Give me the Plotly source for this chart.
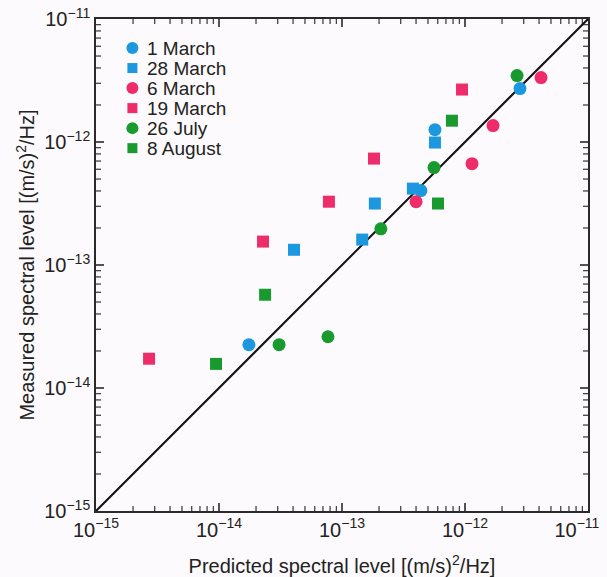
import plotly.graph_objects as go

# Predicted vs measured spectral levels, (m/s)^2/Hz
mar1_pred = [1.75e-14, 4.38e-13, 5.7e-13, 2.8e-12]
mar1_meas = [2.25e-14, 4.03e-13, 1.26e-12, 2.72e-12]

mar28_pred = [4.07e-14, 1.46e-13, 1.85e-13, 3.77e-13, 5.7e-13]
mar28_meas = [1.33e-13, 1.61e-13, 3.16e-13, 4.18e-13, 9.9e-13]

mar6_pred = [4.0e-13, 1.14e-12, 1.69e-12, 4.15e-12]
mar6_meas = [3.27e-13, 6.67e-13, 1.36e-12, 3.34e-12]

mar19_pred = [2.7e-15, 2.28e-14, 7.83e-14, 1.82e-13, 9.46e-13]
mar19_meas = [1.73e-14, 1.55e-13, 3.27e-13, 7.33e-13, 2.67e-12]

jul26_pred = [3.08e-14, 7.69e-14, 2.07e-13, 5.6e-13, 2.65e-12]
jul26_meas = [2.25e-14, 2.61e-14, 1.97e-13, 6.19e-13, 3.47e-12]

aug8_pred = [9.46e-15, 2.37e-14, 6.03e-13, 7.83e-13]
aug8_meas = [1.57e-14, 5.73e-14, 3.16e-13, 1.49e-12]

decades = [1e-15, 1e-14, 1e-13, 1e-12, 1e-11]
decade_labels = ["10<sup>\u221215</sup>", "10<sup>\u221214</sup>", "10<sup>\u221213</sup>",
                 "10<sup>\u221212</sup>", "10<sup>\u221211</sup>"]
minor_vals = [m * d for d in decades[:-1] for m in range(2, 10)]

# The rightmost x label is padded on its right so it stays inside the page
x_tick_labels = decade_labels[:-1] + [decade_labels[-1] + "\u2007\u2007"]

BLUE = "#1c98e0"
PINK = "#ee2c6a"
GREEN = "#199a2f"
AXIS_COLOR = "#2a2a2a"

series = [
    ("1 March", mar1_pred, mar1_meas, BLUE, "circle"),
    ("28 March", mar28_pred, mar28_meas, BLUE, "square"),
    ("6 March", mar6_pred, mar6_meas, PINK, "circle"),
    ("19 March", mar19_pred, mar19_meas, PINK, "square"),
    ("26 July", jul26_pred, jul26_meas, GREEN, "circle"),
    ("8 August", aug8_pred, aug8_meas, GREEN, "square"),
]

lo, hi = decades[0], decades[-1]
PX_PER_DECADE = 492 / 4  # plot area is 492 px across four decades

fig = go.Figure()


def add_edge_ticks(vals, length_px, color, width):
    """Inward tick marks on all four frame edges, as short line segments
    whose length is converted from pixels to a factor on the log scale."""
    f = 10 ** (length_px / PX_PER_DECADE)
    xs, ys = [], []
    for v in vals:
        xs += [v, v, None, v, v, None]           # bottom, top
        ys += [lo, lo * f, None, hi / f, hi, None]
        xs += [lo, lo * f, None, hi / f, hi, None]  # left, right
        ys += [v, v, None, v, v, None]
    fig.add_trace(go.Scatter(
        x=xs, y=ys, mode="lines", showlegend=False, hoverinfo="skip",
        line=dict(color=color, width=width)))


add_edge_ticks(minor_vals, 5, "#444444", 1.3)
add_edge_ticks(decades[1:-1], 8, AXIS_COLOR, 1.6)

# 1:1 reference line
fig.add_trace(go.Scatter(
    x=[lo, hi], y=[lo, hi],
    mode="lines", line=dict(color="#111111", width=2),
    showlegend=False, hoverinfo="skip"))

for name, xs, ys, color, sym in series:
    fig.add_trace(go.Scatter(
        x=xs, y=ys, mode="markers", name=name, showlegend=False,
        marker=dict(color=color, symbol=sym,
                    size=13 if sym == "circle" else 12,
                    line=dict(width=0))))

# Compact legend block in the upper-left corner of the plot
leg_x_marker = 0.074
leg_x_text = 0.099
leg_y_top = 0.941
leg_step = 0.0407
for i, (name, _, _, color, sym) in enumerate(series):
    yc = leg_y_top - i * leg_step
    half = 6 if sym == "circle" else 5
    fig.add_shape(
        type="circle" if sym == "circle" else "rect",
        xref="paper", yref="paper",
        xsizemode="pixel", ysizemode="pixel",
        xanchor=leg_x_marker, yanchor=yc,
        x0=-half, x1=half, y0=-half, y1=half,
        fillcolor=color, line=dict(width=0))
    fig.add_annotation(
        x=leg_x_text, y=yc, xref="paper", yref="paper",
        text=name, showarrow=False, xanchor="left", yanchor="middle",
        font=dict(size=19, color="#222222"))

axis_common = dict(
    type="log",
    range=[-15, -11],
    tickmode="array",
    tickvals=decades,
    ticks="",
    showline=True,
    linecolor=AXIS_COLOR,
    linewidth=1.6,
    mirror=True,
    showgrid=False,
    zeroline=False,
    automargin=False,
    ticklabeloverflow="allow",
    tickfont=dict(size=20, color="#222222"),
)

fig.update_xaxes(**axis_common, ticktext=x_tick_labels,
                 title=dict(text="Predicted spectral level [(m/s)<sup>2</sup>/Hz]",
                            font=dict(size=20, color="#222222"), standoff=20))
fig.update_yaxes(**axis_common, ticktext=decade_labels,
                 title=dict(text="Measured spectral level [(m/s)<sup>2</sup>/Hz]",
                            font=dict(size=20, color="#222222"), standoff=4))

fig.update_layout(
    width=607, height=577,
    margin=dict(l=96, r=19, t=19, b=66),
    paper_bgcolor="#fcfafc",
    plot_bgcolor="#fcfafc",
    font=dict(family="Liberation Sans, Arial, sans-serif", color="#222222"),
    showlegend=False,
)

fig.write_html("out.html")
